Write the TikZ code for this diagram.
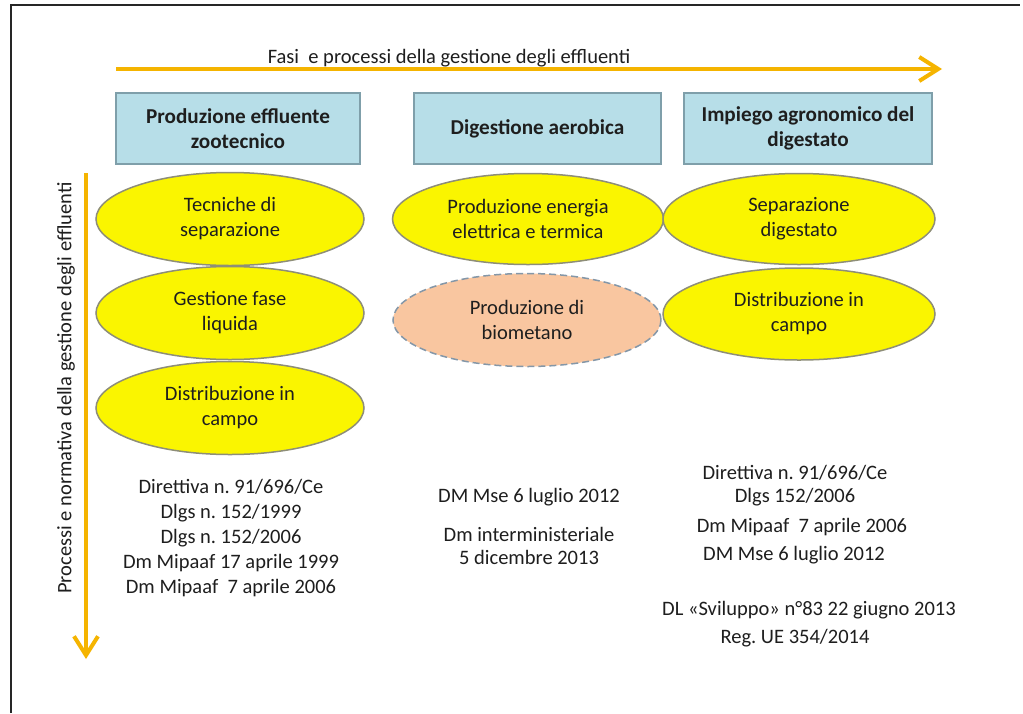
\documentclass[tikz,border=0pt]{standalone}
\usepackage{fontspec}
\setmainfont{Carlito}
\usetikzlibrary{shapes.geometric,arrows.meta}
\frenchspacing
\definecolor{arrowc}{HTML}{F5B400}
\definecolor{boxfill}{HTML}{B7DEE8}
\definecolor{boxline}{HTML}{7F9FAA}
\definecolor{ellfill}{HTML}{FAF500}
\definecolor{ellline}{HTML}{8E8E78}
\definecolor{peach}{HTML}{F9C6A0}
\definecolor{dashline}{HTML}{8497A8}
\definecolor{txt}{HTML}{1E1E1E}
\tikzset{
  txtfont/.style={font=\fontsize{20.5}{25}\selectfont, text=txt},
  headbox/.style={draw=boxline, line width=1.5pt, fill=boxfill, minimum height=71pt, inner sep=0pt, align=center, txtfont, font=\fontsize{21.2}{25}\selectfont\bfseries},
  procell/.style={ellipse, draw=ellline, line width=1.5pt, fill=ellfill, inner sep=0pt, align=center, txtfont},
  dashell/.style={ellipse, draw=dashline, line width=1.5pt, dashed, dash pattern=on 7pt off 4pt, fill=peach, inner sep=0pt, align=center, txtfont},
  plaintext/.style={align=center, inner sep=0pt, txtfont},
  bigarrow/.style={draw=arrowc, line width=4pt, -{Straight Barb[length=19pt,width=24pt,line width=4pt]}},
  frameline/.style={draw=black!85, line width=2pt}
}
\begin{document}
\begin{tikzpicture}[x=1pt,y=-1pt]
\useasboundingbox (0,0) rectangle (1023,713);
\fill[white] (0,0) rectangle (1023,713);
% frame
\coordinate (f1) at (11,713);
\coordinate (f2) at (11,5);
\coordinate (f3) at (1020,5);
\draw[frameline] (f1) -- (f2) -- (f3);
% horizontal arrow
\coordinate (ha) at (116,69);
\coordinate (hb) at (942,69);
\draw[bigarrow] (ha) -- (hb);
\node[plaintext] (title) at (449,58) {Fasi\ \ e processi della gestione degli effluenti};
% vertical arrow
\coordinate (va) at (86,173);
\coordinate (vb) at (86,659);
\draw[bigarrow] (va) -- (vb);
\node[plaintext, rotate=90] (vlabel) at (66,388) {Processi e normativa della gestione degli effluenti};
% header boxes
\node[headbox, minimum width=244pt] (h1) at (238,128.5) {Produzione effluente\\zootecnico};
\node[headbox, minimum width=247pt] (h2) at (537.5,128.5) {Digestione aerobica};
\node[headbox, minimum width=248pt] (h3) at (808,128.5) {Impiego agronomico del\\digestato};
% column 1 ellipses
\node[procell, minimum width=268pt, minimum height=93pt] (e1) at (230,219) {Tecniche di\\separazione};
\node[procell, minimum width=268pt, minimum height=93pt] (e2) at (230,313) {Gestione fase\\liquida};
\node[procell, minimum width=268pt, minimum height=93pt] (e3) at (230,408) {Distribuzione in\\campo};
% column 2 ellipses
\node[procell, minimum width=271pt, minimum height=91pt] (e4) at (528,219) {Produzione energia\\elettrica e termica};
\node[dashell, minimum width=268pt, minimum height=93pt] (e5) at (527,320) {Produzione di\\biometano};
% column 3 ellipses
\node[procell, minimum width=272pt, minimum height=91pt] (e6) at (799,219) {Separazione\\digestato};
\node[procell, minimum width=272pt, minimum height=92pt] (e7) at (799,314) {Distribuzione in\\campo};
% left norms
\node[plaintext] (n1) at (231,538) {Direttiva n. 91/696/Ce\\Dlgs n. 152/1999\\Dlgs n. 152/2006\\Dm Mipaaf 17 aprile 1999\\Dm Mipaaf\ \ 7 aprile 2006};
% middle norms
\node[plaintext] (m1) at (529,497) {DM Mse 6 luglio 2012};
\node[plaintext, font=\fontsize{20.5}{23}\selectfont] (m2) at (529,545.5) {Dm interministeriale\\5 dicembre 2013};
% right norms
\node[plaintext] (r1) at (795,473) {Direttiva n. 91/696/Ce};
\node[plaintext] (r2) at (795,497) {Dlgs 152/2006};
\node[plaintext] (r3) at (802,527) {Dm Mipaaf\ \ 7 aprile 2006};
\node[plaintext] (r4) at (794,555) {DM Mse 6 luglio 2012};
\node[plaintext] (r5) at (809,610) {DL «Sviluppo» n°83 22 giugno 2013};
\node[plaintext] (r6) at (795,638) {Reg. UE 354/2014};
\end{tikzpicture}
\end{document}
